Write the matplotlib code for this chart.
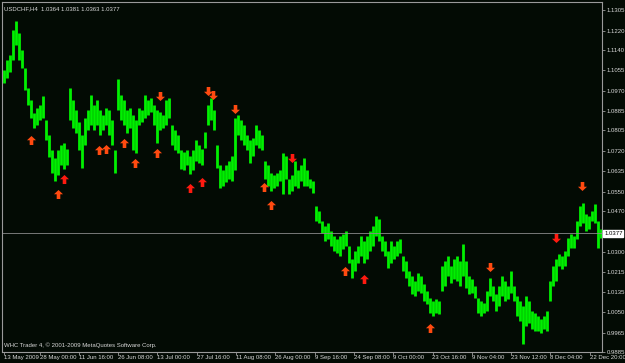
import matplotlib
matplotlib.use('Agg')
import matplotlib.pyplot as plt
from matplotlib.path import Path
import numpy as np

# USDCHF H4 - high/low readings, one entry per 3 px slice of the chart
highs = [1.1055, 1.1097, 1.1118, 1.1222, 1.1260, 1.1209, 1.1139, 1.1064, 1.0980, 1.0930,
         1.0876, 1.0897, 1.0910, 1.0947, 1.0847, 1.0785, 1.0722, 1.0689, 1.0722, 1.0743,
         1.0751, 1.0730, 1.0980, 1.0930, 1.0889, 1.0839, 1.0785, 1.0855, 1.0889, 1.0951,
         1.0910, 1.0930, 1.0889, 1.0868, 1.0897, 1.0889, 1.0847, 1.0722, 1.1018, 1.0951,
         1.0930, 1.0889, 1.0897, 1.0868, 1.0847, 1.0897, 1.0889, 1.0951, 1.0930, 1.0939,
         1.0910, 1.0889, 1.0880, 1.0868, 1.0930, 1.0939, 1.0826, 1.0805, 1.0785, 1.0722,
         1.0714, 1.0722, 1.0701, 1.0722, 1.0764, 1.0743, 1.0730, 1.0797, 1.0910, 1.0939,
         1.0889, 1.0743, 1.0660, 1.0639, 1.0660, 1.0680, 1.0701, 1.0855, 1.0868, 1.0847,
         1.0826, 1.0785, 1.0764, 1.0772, 1.0826, 1.0805, 1.0785, 1.0680, 1.0660, 1.0630,
         1.0618, 1.0630, 1.0639, 1.0710, 1.0701, 1.0605, 1.0618, 1.0680, 1.0639, 1.0660,
         1.0689, 1.0639, 1.0605, 1.0597, 1.0493, 1.0472, 1.0430, 1.0410, 1.0422, 1.0389,
         1.0368, 1.0355, 1.0368, 1.0376, 1.0389, 1.0326, 1.0272, 1.0305, 1.0326, 1.0368,
         1.0347, 1.0368, 1.0389, 1.0410, 1.0451, 1.0439, 1.0368, 1.0347, 1.0305, 1.0347,
         1.0326, 1.0347, 1.0355, 1.0285, 1.0264, 1.0222, 1.0201, 1.0180, 1.0214, 1.0201,
         1.0168, 1.0139, 1.0110, 1.0097, 1.0105, 1.0097, 1.0243, 1.0264, 1.0285, 1.0243,
         1.0272, 1.0285, 1.0264, 1.0334, 1.0264, 1.0201, 1.0189, 1.0160, 1.0110, 1.0097,
         1.0089, 1.0139, 1.0193, 1.0160, 1.0126, 1.0160, 1.0201, 1.0180, 1.0160, 1.0222,
         1.0160, 1.0118, 1.0097, 1.0076, 1.0118, 1.0097, 1.0055, 1.0047, 1.0035, 1.0022,
         1.0035, 1.0055, 1.0180, 1.0243, 1.0272, 1.0293, 1.0285, 1.0305, 1.0360, 1.0376,
         1.0368, 1.0430, 1.0493, 1.0505, 1.0460, 1.0451, 1.0472, 1.0501, 1.0430, 1.0397]
lows = [1.1001, 1.1022, 1.1047, 1.1097, 1.1159, 1.1097, 1.1064, 1.0972, 1.0910, 1.0855,
        1.0814, 1.0826, 1.0847, 1.0855, 1.0764, 1.0693, 1.0630, 1.0597, 1.0618, 1.0660,
        1.0647, 1.0660, 1.0847, 1.0814, 1.0793, 1.0722, 1.0651, 1.0743, 1.0805, 1.0826,
        1.0805, 1.0826, 1.0785, 1.0805, 1.0826, 1.0785, 1.0743, 1.0630, 1.0889, 1.0847,
        1.0826, 1.0793, 1.0814, 1.0722, 1.0710, 1.0826, 1.0839, 1.0855, 1.0868, 1.0880,
        1.0826, 1.0751, 1.0805, 1.0814, 1.0826, 1.0855, 1.0743, 1.0722, 1.0710, 1.0647,
        1.0639, 1.0660, 1.0626, 1.0639, 1.0680, 1.0672, 1.0660, 1.0734, 1.0826, 1.0847,
        1.0805, 1.0651, 1.0564, 1.0576, 1.0589, 1.0605, 1.0597, 1.0639, 1.0785, 1.0764,
        1.0743, 1.0722, 1.0672, 1.0701, 1.0743, 1.0734, 1.0722, 1.0605, 1.0576, 1.0555,
        1.0564, 1.0576, 1.0597, 1.0543, 1.0605, 1.0543, 1.0555, 1.0576, 1.0568, 1.0597,
        1.0576, 1.0576, 1.0564, 1.0547, 1.0430, 1.0422, 1.0380, 1.0347, 1.0355, 1.0326,
        1.0305, 1.0297, 1.0285, 1.0314, 1.0326, 1.0255, 1.0193, 1.0222, 1.0255, 1.0285,
        1.0255, 1.0272, 1.0305, 1.0326, 1.0368, 1.0347, 1.0305, 1.0285, 1.0234, 1.0255,
        1.0272, 1.0285, 1.0297, 1.0222, 1.0193, 1.0160, 1.0126, 1.0118, 1.0139, 1.0130,
        1.0097, 1.0085, 1.0047, 1.0035, 1.0047, 1.0043, 1.0139, 1.0160, 1.0201, 1.0172,
        1.0189, 1.0180, 1.0160, 1.0201, 1.0151, 1.0126, 1.0130, 1.0110, 1.0047, 1.0035,
        1.0047, 1.0055, 1.0118, 1.0097, 1.0055, 1.0076, 1.0118, 1.0097, 1.0105, 1.0130,
        1.0097, 1.0035, 1.0014, 0.9918, 0.9993, 1.0005, 0.9980, 0.9972, 0.9972, 0.9964,
        0.9980, 0.9972, 1.0097, 1.0160, 1.0180, 1.0243, 1.0230, 1.0243, 1.0285, 1.0318,
        1.0318, 1.0355, 1.0410, 1.0422, 1.0389, 1.0397, 1.0430, 1.0422, 1.0318, 1.0360]

# signal arrows: bar position, price, direction, colour group
up_pos = [9.3, 18, 20, 31.7, 34, 40, 43.7, 51, 62.3, 66.3, 86.7, 89, 113.7, 120, 142]
up_price = [1.0764, 1.0543, 1.0605, 1.0722, 1.0730, 1.0755, 1.0672, 1.0710, 1.0568, 1.0593,
            1.0572, 1.0497, 1.0222, 1.0189, 0.9984]
up_red = [0, 0, 1, 0, 0, 0, 0, 0, 1, 1, 0, 0, 0, 1, 0]
down_pos = [52, 68.3, 69.7, 77, 96.3, 162, 184.3, 192.7]
down_price = [1.0947, 1.0968, 1.0951, 1.0893, 1.0689, 1.0239, 1.0360, 1.0576]
down_red = [0, 0, 0, 0, 1, 0, 1, 0]

time_pos = [0, 12.0, 25.1, 38.2, 51.3, 64.4, 77.5, 90.6, 103.7, 116.8, 129.9, 143.0,
            156.1, 169.2, 182.3, 195.4]
time_labels = ['13 May 2009', '28 May 00:00', '11 Jun 16:00', '26 Jun 08:00', '13 Jul 00:00',
               '27 Jul 16:00', '11 Aug 08:00', '26 Aug 00:00', '9 Sep 16:00', '24 Sep 08:00',
               '9 Oct 00:00', '23 Oct 16:00', '9 Nov 04:00', '23 Nov 12:00', '8 Dec 04:00',
               '22 Dec 20:00']
price_ticks = [1.1305, 1.1220, 1.1140, 1.1055, 1.0970, 1.0885, 1.0805, 1.0720, 1.0635,
               1.0550, 1.0470, 1.0300, 1.0215, 1.0135, 1.0050, 0.9965, 0.9885]
last_price = 1.0377

plt.rcParams['font.family'] = ['Liberation Sans', 'DejaVu Sans']
fs = 4.3

bg = '#030b04'
fig = plt.figure(figsize=(6.25, 3.63), dpi=100)
fig.patch.set_facecolor(bg)
ax = fig.add_axes([2 / 625, 11 / 363, 600 / 625, 350 / 363])
ax.set_facecolor(bg)

x = np.arange(len(highs))
ax.vlines(x, lows, highs, color='#00f000', lw=2.0)

# current price line
ax.axhline(last_price, color='#8a8a8a', lw=0.6)

# arrows
up_arrow = Path([(0, 1), (1, 0.05), (0.4, 0.05), (0.4, -1), (-0.4, -1), (-0.4, 0.05), (-1, 0.05), (0, 1)],
                [Path.MOVETO] + [Path.LINETO] * 6 + [Path.CLOSEPOLY])
down_arrow = Path([(vx, -vy) for vx, vy in up_arrow.vertices], up_arrow.codes)
for p, v, r in zip(up_pos, up_price, up_red):
    ax.plot(p, v, marker=up_arrow, ms=6.5, color='#ff1a10' if r else '#ff4a10', mew=0)
for p, v, r in zip(down_pos, down_price, down_red):
    ax.plot(p, v, marker=down_arrow, ms=6.5, color='#ff1a10' if r else '#ff4a10', mew=0)

ax.set_xlim(-0.5, 199.5)
ax.set_ylim(0.98845, 1.1339)

for s in ax.spines.values():
    s.set_color('#9a9a9a')
    s.set_linewidth(0.8)

ax.yaxis.tick_right()
ax.set_yticks(price_ticks)
ax.set_yticklabels(['%.4f' % v for v in price_ticks])
ax.tick_params(axis='y', colors='#9a9a9a', labelcolor='#d8d8d8', labelsize=fs, length=2, width=0.6, pad=1.5)
ax.set_xticks(time_pos)
ax.set_xticklabels(time_labels, ha='left')
ax.tick_params(axis='x', colors='#9a9a9a', labelcolor='#d8d8d8', labelsize=fs, length=2, width=0.6, pad=0.5)

ax.annotate('%.4f' % last_price, xy=(1.0, last_price), xycoords=('axes fraction', 'data'),
            xytext=(1.5, 0), textcoords='offset points', va='center', ha='left', fontsize=fs,
            color='black', bbox=dict(boxstyle='square,pad=0.15', fc='white', ec='white'))

ax.text(0.004, 0.988, 'USDCHF,H4  1.0364 1.0381 1.0363 1.0377', transform=ax.transAxes,
        color='#d8d8d8', fontsize=fs, va='top', ha='left')
ax.text(0.004, 0.01, 'WHC Trader 4, \u00a9 2001-2009 MetaQuotes Software Corp.', transform=ax.transAxes,
        color='#d8d8d8', fontsize=fs, va='bottom', ha='left')

fig.savefig('out.png', dpi=100, facecolor=bg)
